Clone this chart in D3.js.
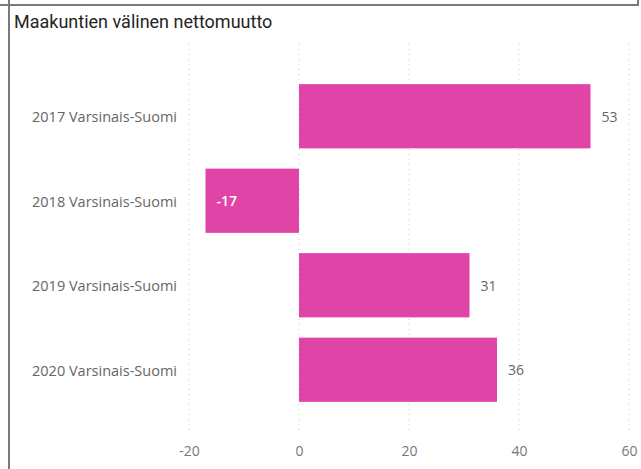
<!DOCTYPE html>
<html>
<head>
<meta charset="utf-8">
<script src="https://cdn.jsdelivr.net/npm/d3@7"></script>
<style>
  body { margin: 0; background: #fff; }
  svg { display: block; }
</style>
</head>
<body>
<svg id="chart" width="641" height="469"></svg>
<script>
// data
const categories = ["2017 Varsinais-Suomi", "2018 Varsinais-Suomi", "2019 Varsinais-Suomi", "2020 Varsinais-Suomi"];
const values = [53, -17, 31, 36];
const xTicks = [-20, 0, 20, 40, 60];
const title = "Maakuntien välinen nettomuutto";

const svg = d3.select("#chart");
const font = "'Segoe UI', 'Open Sans', 'Noto Sans', sans-serif";

// frame lines of the report page
svg.append("path")
    .attr("d", "M0,5H638V0 M9,0V469")
    .attr("fill", "none")
    .attr("stroke", "#7a7a7a")
    .attr("stroke-width", 2);

svg.append("text")
    .attr("x", 14)
    .attr("y", 28)
    .attr("font-family", "'DIN', 'Roboto', 'Noto Sans', sans-serif")
    .attr("font-size", 18)
    .attr("fill", "#252423")
    .text(title);

const x = d3.scaleLinear()
    .domain([-20, 60])
    .range([189, 629]);

const y = d3.scaleBand()
    .domain(categories)
    .range([74, 412])
    .paddingInner(0.24)
    .paddingOuter(0.12);

// dotted gridlines
svg.append("g")
    .selectAll("line")
    .data(xTicks)
    .join("line")
        .attr("x1", d => x(d))
        .attr("x2", d => x(d))
        .attr("y1", 44)
        .attr("y2", 432)
        .attr("stroke", "#c8c8c8")
        .attr("stroke-width", 1)
        .attr("stroke-dasharray", "1,4");

// x axis labels, hyphen minus like the reference
const xAxis = svg.append("g")
    .attr("transform", "translate(0,446)")
    .call(d3.axisBottom(x).tickValues(xTicks).tickSize(0).tickPadding(0).tickFormat(d => String(d)));
xAxis.select(".domain").remove();
xAxis.selectAll("text")
    .attr("font-family", font)
    .attr("font-size", 14)
    .attr("fill", "#777");

// y axis labels
const yAxis = svg.append("g")
    .attr("transform", "translate(177,0)")
    .call(d3.axisLeft(y).tickSize(0).tickPadding(0));
yAxis.select(".domain").remove();
yAxis.selectAll("text")
    .attr("font-family", font)
    .attr("font-size", 14.5)
    .attr("dy", "0.4em")
    .attr("fill", "#666");

const data = categories.map((c, i) => ({ cat: c, value: values[i] }));

svg.append("g")
    .selectAll("rect")
    .data(data)
    .join("rect")
        .attr("x", d => x(Math.min(0, d.value)))
        .attr("y", d => y(d.cat))
        .attr("width", d => Math.abs(x(d.value) - x(0)))
        .attr("height", y.bandwidth())
        .attr("fill", "#e044a7");

// data labels
svg.append("g")
    .selectAll("text")
    .data(data)
    .join("text")
        .attr("x", d => x(d.value) + 11)
        .attr("y", d => y(d.cat) + y.bandwidth() / 2)
        .attr("dy", "0.4em")
        .attr("font-family", font)
        .attr("font-size", 14)
        .attr("font-weight", d => d.value < 0 ? 600 : 400)
        .attr("fill", d => d.value < 0 ? "#fff" : "#666")
        .text(d => d.value);
</script>
</body>
</html>
